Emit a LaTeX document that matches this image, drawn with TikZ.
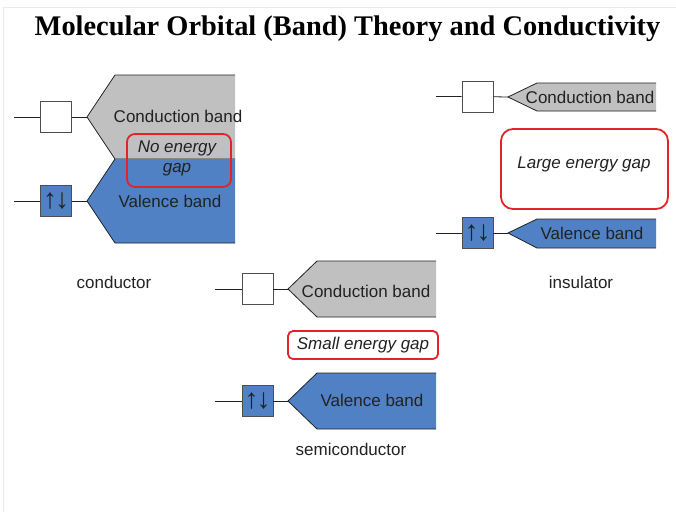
\documentclass[tikz,border=0pt]{standalone}
\usepackage{fontspec}
\setmainfont{Liberation Sans}
\newfontfamily\titlefont{Liberation Serif}
\usetikzlibrary{calc, positioning}
\definecolor{bandgray}{RGB}{192,192,192}
\definecolor{bandblue}{RGB}{79,129,196}
\definecolor{gapred}{RGB}{226,36,42}
\definecolor{inkdark}{RGB}{34,34,34}
\newcommand{\spins}{\fontsize{28}{28}\selectfont ↑\kern-2pt↓}
\tikzset{
  lbl/.style={inner sep=0pt, text=inkdark, font=\fontsize{17}{20}\selectfont},
  orb/.style={draw=inkdark!80, line width=0.9pt, minimum size=31pt, inner sep=0pt},
  gapbox/.style={draw=gapred, line width=1.8pt},
  edge/.style={draw=inkdark, line width=0.8pt}
}
\begin{document}
\begin{tikzpicture}[x=1pt,y=-1pt]
\useasboundingbox (0,0) rectangle (676,512);
\draw[black!8,line width=1pt] (3,512) -- (3,7) -- (676,7);
\node[inner sep=0pt] (title) at (347.5,29) {\titlefont\bfseries\fontsize{28.4}{30}\selectfont Molecular Orbital (Band) Theory and Conductivity};

% conductor
\fill[bandgray] (87,117) -- (115,75) -- (235,75) -- (235,159) -- (115,159) -- cycle;
\draw[edge] (235,75) -- (115,75) -- (87,117) -- (115,159) -- (235,159);
\fill[bandblue] (87,201) -- (115,159) -- (235,159) -- (235,243) -- (115,243) -- cycle;
\draw[edge] (115,159) -- (87,201) -- (115,243) -- (235,243);
\coordinate (cc) at (87,117);
\coordinate (cv) at (87,201);
\node[orb, fill=white] (cco) at (56,117) {};
\node[orb, fill=bandblue, lbl] (cvo) at (56,201) {};
\node[lbl] at (cvo) {\spins};
\coordinate (ccl) at (14,117);
\coordinate (cvl) at (14,201);
\draw[edge] (ccl) -- (cco) -- (cc);
\draw[edge] (cvl) -- (cvo) -- (cv);
\node[lbl] at (178,116) {Conduction band};
\node[lbl] at (170,201) {Valence band};
\draw[gapbox, rounded corners=8pt] (127,134) rectangle (231,187);
\node[lbl, font=\fontsize{17}{20}\selectfont\itshape] at (177,148) {No energy};
\node[lbl, font=\fontsize{17}{20}\selectfont\itshape] at (177,170) {gap};
\node[lbl] at (114,282) {conductor};

% insulator
\fill[bandgray] (508,97) -- (537,83) -- (656,83) -- (656,111) -- (537,111) -- cycle;
\draw[edge] (656,83) -- (537,83) -- (508,97) -- (537,111) -- (656,111);
\fill[bandblue] (508,233) -- (537,219) -- (656,219) -- (656,248) -- (537,248) -- cycle;
\draw[edge] (656,219) -- (537,219) -- (508,233) -- (537,248) -- (656,248);
\coordinate (ic) at (508,97);
\coordinate (iv) at (508,233);
\node[orb, fill=white] (ico) at (477.5,96.5) {};
\node[orb, fill=bandblue] (ivo) at (477.5,233) {};
\node[lbl] at (ivo) {\spins};
\coordinate (icl) at (436,96.5);
\coordinate (ivl) at (436,233);
\draw[edge] (icl) -- (ico) -- (ic);
\draw[edge] (ivl) -- (ivo) -- (iv);
\node[lbl] at (590,97) {Conduction band};
\node[lbl] at (592,233) {Valence band};
\draw[gapbox, rounded corners=12pt] (501,129) rectangle (668,209);
\node[lbl, font=\fontsize{17}{20}\selectfont\itshape] at (584,164) {Large energy gap};
\node[lbl] at (581,282) {insulator};

% semiconductor
\fill[bandgray] (288,289) -- (317,261) -- (436,261) -- (436,317) -- (317,317) -- cycle;
\draw[edge] (436,261) -- (317,261) -- (288,289) -- (317,317) -- (436,317);
\fill[bandblue] (288,401) -- (317,373) -- (436,373) -- (436,429) -- (317,429) -- cycle;
\draw[edge] (436,373) -- (317,373) -- (288,401) -- (317,429) -- (436,429);
\coordinate (sc) at (288,289);
\coordinate (sv) at (288,401);
\node[orb, fill=white] (sco) at (257.5,289) {};
\node[orb, fill=bandblue] (svo) at (257.5,401) {};
\node[lbl] at (svo) {\spins};
\coordinate (scl) at (215,289);
\coordinate (svl) at (215,401);
\draw[edge] (scl) -- (sco) -- (sc);
\draw[edge] (svl) -- (svo) -- (sv);
\node[lbl] at (366,291) {Conduction band};
\node[lbl] at (372,400) {Valence band};
\draw[gapbox, rounded corners=5pt] (288,331) rectangle (438,359);
\node[lbl, font=\fontsize{17}{20}\selectfont\itshape] at (363,345) {Small energy gap};
\node[lbl] at (351,449) {semiconductor};
\end{tikzpicture}
\end{document}
